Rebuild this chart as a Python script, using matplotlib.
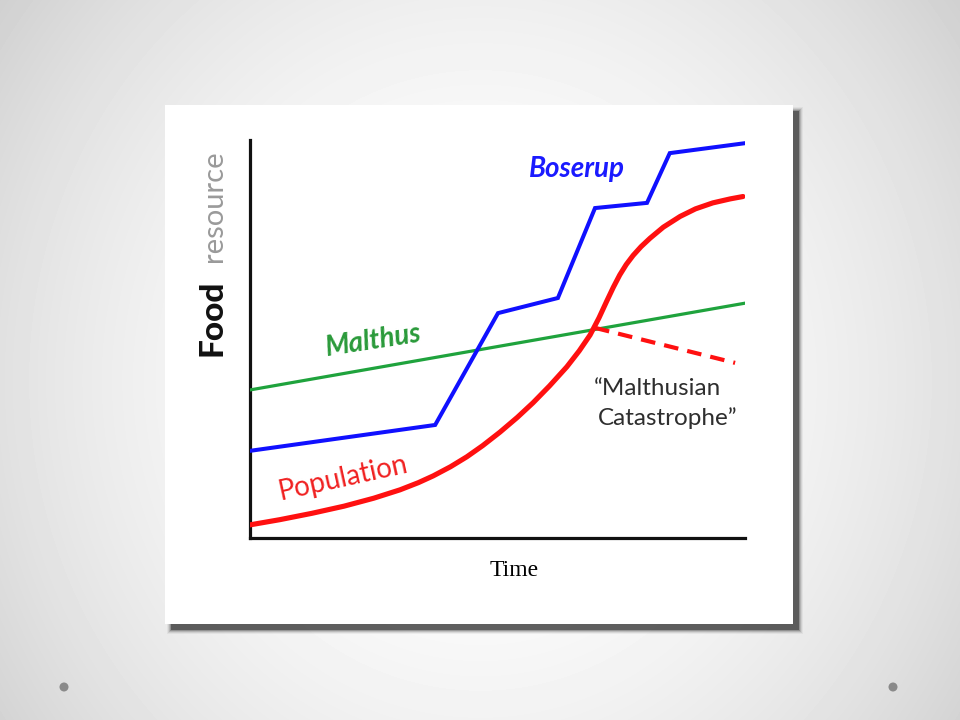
import numpy as np
import matplotlib
matplotlib.use("Agg")
import matplotlib.pyplot as plt
from matplotlib.patches import Rectangle, Circle

# ---- data (time 0..100, food/resource 0..100) ----
time_malthus = [0, 100]
food_malthus = [37.2, 59.0]

time_boserup = [0, 37.4, 50.1, 62.2, 69.7, 80.2, 84.8, 100]
food_boserup = [21.9, 28.4, 56.5, 60.3, 82.9, 84.2, 96.7, 99.2]

time_pop = [0, 6, 12.5, 19, 25, 30.3, 34, 37, 40.5, 43.8, 47, 50.5, 54,
            57.2, 60.5, 64, 66.5, 68.7, 70.5, 72.1, 73.4, 74.7, 76, 77.4,
            79, 80.8, 83.5, 86.9, 90, 93.5, 97, 99.6]
food_pop = [3.3, 4.6, 6.2, 8.0, 10.0, 12.1, 13.9, 15.6, 17.9, 20.4, 23.2,
            26.6, 30.3, 34.0, 38.2, 43.0, 47.0, 51.0, 55.3, 59.6, 63.0,
            66.1, 68.7, 71.0, 73.2, 75.3, 78.1, 80.8, 82.7, 84.2, 85.2, 85.8]

time_catastrophe = [69.7, 98.0]
food_catastrophe = [52.8, 44.0]

W, H = 960, 720
fig = plt.figure(figsize=(9.6, 7.2), dpi=100)

# slide background: soft radial grey gradient
bg = fig.add_axes([0, 0, 1, 1])
bg.axis("off")
yy, xx = np.mgrid[0:H, 0:W]
r = np.hypot((xx - 480) / 520.0, (yy - 380) / 560.0)
shade = 1.0 - 0.14 * r ** 2
bg.imshow(shade, cmap="gray", vmin=0, vmax=1, extent=[0, W, H, 0],
          aspect="auto", interpolation="bilinear")
bg.set_xlim(0, W)
bg.set_ylim(H, 0)

# white card with drop shadow
bx0, by0, bx1, by1 = 165, 105, 793, 624
for d, a in [(4, 0.06), (3, 0.10), (2, 0.16), (1, 0.26), (0, 0.55)]:
    bg.add_patch(Rectangle((bx0 + 6 - d, by0 + 6 - d), bx1 - bx0 + 2 * d,
                           by1 - by0 + 2 * d, facecolor="#303030",
                           edgecolor="none", alpha=a))
bg.add_patch(Rectangle((bx0, by0), bx1 - bx0, by1 - by0,
                       facecolor="white", edgecolor="none"))

# slide bullets
for cx in (64, 893):
    bg.add_patch(Circle((cx, 687), 4.5, facecolor="#8a8a8a", edgecolor="none"))

bg.text(514, 571, "Time", family="Liberation Serif", fontsize=17,
        ha="center", va="center", color="black")

# y label made of two words in different weights
bg.text(222, 318, "Food", family="Lato", fontweight="black", fontsize=24,
        color="#111111", rotation=90, rotation_mode="anchor",
        ha="center", va="baseline")
bg.text(222, 206, "resource", family="Lato", fontsize=21, color="#9a9a9a",
        rotation=90, rotation_mode="anchor", ha="center", va="baseline")

# ---- chart ----
ax = fig.add_axes([250 / W, (H - 538) / H, 495 / W, 398 / H])
ax.patch.set_alpha(0)
ax.set_xlim(0, 100)
ax.set_ylim(0, 100)
for side in ("top", "right"):
    ax.spines[side].set_visible(False)
for side in ("left", "bottom"):
    ax.spines[side].set_linewidth(2.3)
    ax.spines[side].set_color("#111111")
ax.set_xticks([])
ax.set_yticks([])

ax.plot(time_malthus, food_malthus, color="#1fa33d", lw=2.3, zorder=3)
ax.plot(time_boserup, food_boserup, color="#1010ff", lw=2.9, zorder=3,
        solid_joinstyle="miter")
ax.plot(time_pop, food_pop, color="#ff1010", lw=3.7, zorder=4,
        solid_capstyle="round", solid_joinstyle="round")
ax.plot(time_catastrophe, food_catastrophe, color="#ff1010", lw=3.0,
        dashes=(3.5, 2.2), zorder=4)

ax.text(66.1, 90.7, "Boserup", family="Lato", fontweight="bold",
        style="italic", fontsize=20, color="#1a1aff", ha="center",
        va="baseline")
ax.text(25.3, 47.7, "Malthus", family="Lato", fontweight="bold",
        style="italic", fontsize=20, color="#2a9a3a", ha="center",
        va="baseline", rotation=8.8, rotation_mode="anchor")
ax.text(19.2, 13.1, "Population", family="Lato", fontsize=20,
        color="#f02020", ha="center", va="baseline", rotation=12.4,
        rotation_mode="anchor")
ax.text(82.4, 35.9, "\u201cMalthusian", family="Lato", fontsize=17.5,
        color="#2e2e2e", ha="center", va="baseline")
ax.text(84.4, 28.4, "Catastrophe\u201d", family="Lato", fontsize=17.5,
        color="#2e2e2e", ha="center", va="baseline")

fig.savefig("out.png", dpi=100)
